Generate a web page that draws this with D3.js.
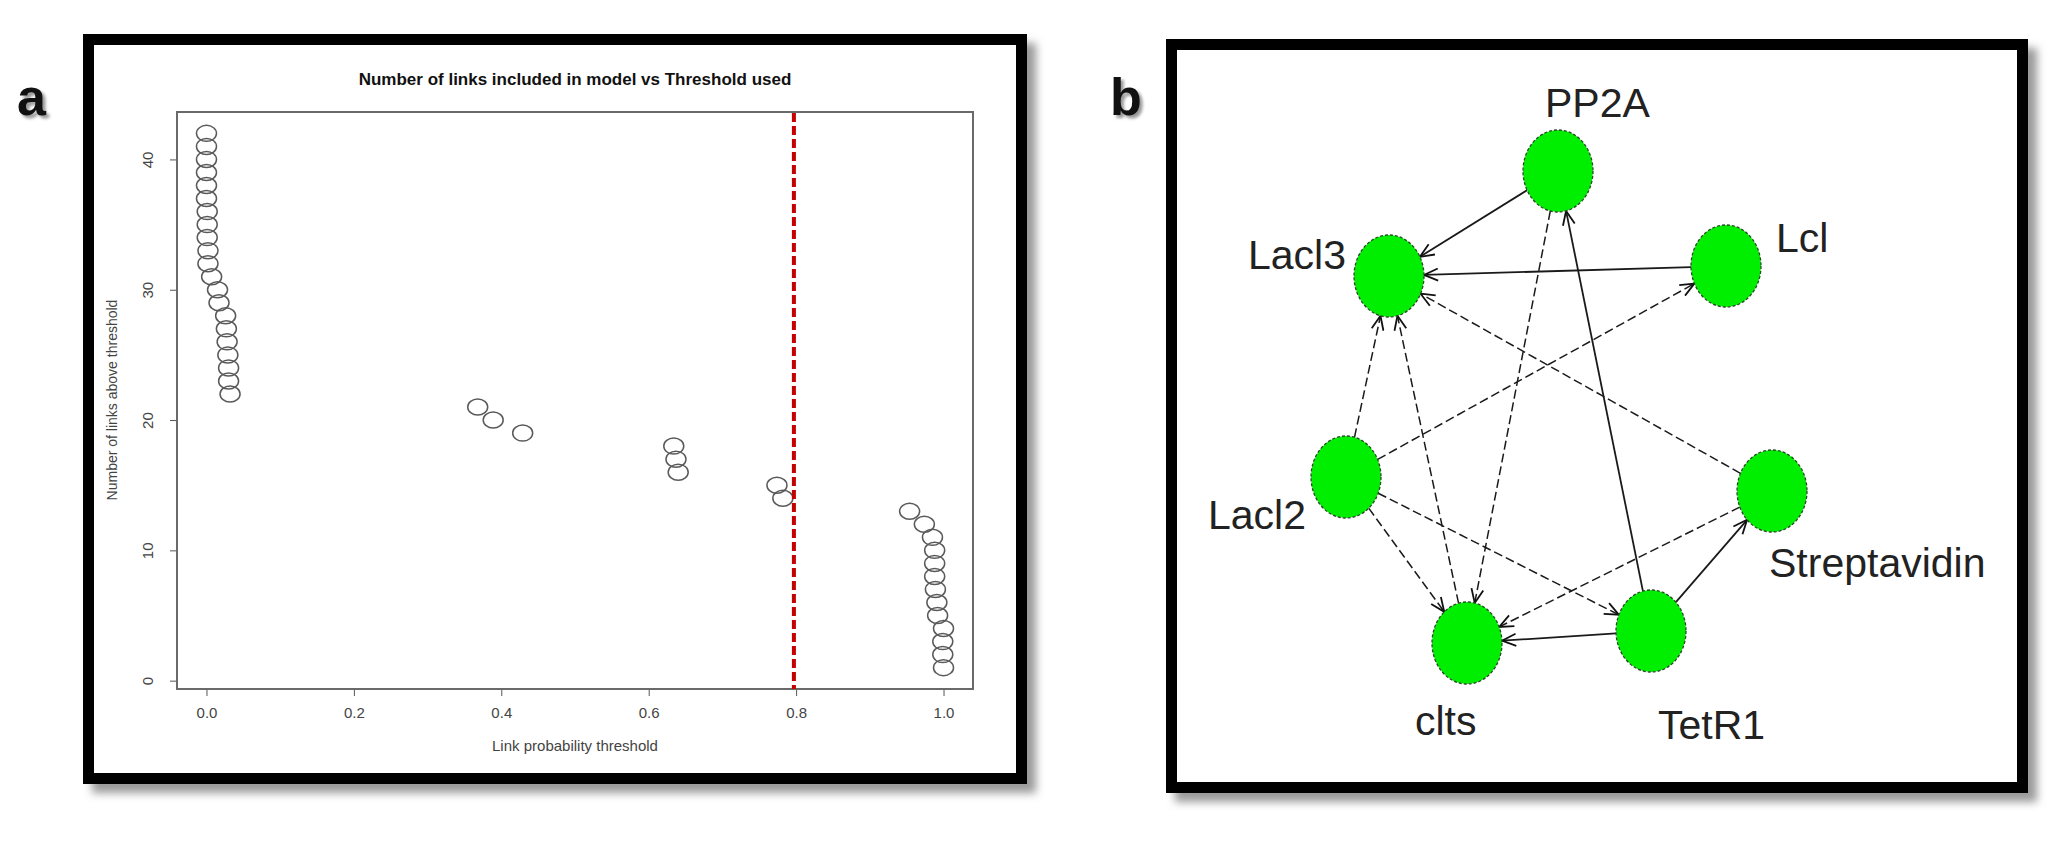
<!DOCTYPE html>
<html>
<head>
<meta charset="utf-8">
<script src="https://cdn.jsdelivr.net/npm/d3@7"></script>
<style>
  body { margin: 0; background: #fff; }
  text { font-family: "Liberation Sans", Arial, sans-serif; }
</style>
</head>
<body>
<script>
// panel a: link count vs threshold
const linkCounts = [42, 41, 40, 39, 38, 37, 36, 35, 34, 33, 32, 31, 30, 29, 28, 27, 26, 25, 24, 23, 22,
    21, 20, 19, 18, 17, 16, 15, 14, 13, 12, 11, 10, 9, 8, 7, 6, 5, 4, 3, 2, 1];
const thresholds = [0.000, 0.000, 0.000, 0.000, 0.000, 0.000, 0.001, 0.001, 0.001, 0.002, 0.002, 0.007,
    0.015, 0.017, 0.026, 0.027, 0.028, 0.029, 0.030, 0.030, 0.032,
    0.368, 0.389, 0.429, 0.634, 0.637, 0.640, 0.774, 0.782,
    0.954, 0.974, 0.985, 0.988, 0.988, 0.988, 0.989, 0.991, 0.992, 1.000, 0.999, 0.999, 1.000];
const xTicks = [0, 0.2, 0.4, 0.6, 0.8, 1.0];
const yTicks = [0, 10, 20, 30, 40];
const cutoff = 0.797;
const titleA = "Number of links included in model vs Threshold used";
const xLabelA = "Link probability threshold";
const yLabelA = "Number of links above threshold";

// panel b: network
const nodeNames = ["PP2A", "Lacl3", "Lcl", "Lacl2", "Streptavidin", "clts", "TetR1"];
const edgeFrom = ["PP2A", "Lcl", "Streptavidin", "Lacl2", "clts", "Lacl2", "PP2A", "TetR1", "Lacl2", "Lacl2", "Streptavidin", "TetR1", "TetR1"];
const edgeTo = ["Lacl3", "Lacl3", "Lacl3", "Lacl3", "Lacl3", "Lcl", "clts", "PP2A", "clts", "TetR1", "clts", "clts", "Streptavidin"];

// layout of panel b (panel-local units)
const nodeLayout = {
    "PP2A": { x: 392, y: 132, lx: 379, ly: 78 },
    "Lacl3": { x: 223, y: 237, lx: 82, ly: 230 },
    "Lcl": { x: 560, y: 227, lx: 610, ly: 213 },
    "Lacl2": { x: 180, y: 438, lx: 42, ly: 490 },
    "Streptavidin": { x: 606, y: 452, lx: 603, ly: 538 },
    "clts": { x: 301, y: 604, lx: 249, ly: 696 },
    "TetR1": { x: 485, y: 592, lx: 492, ly: 700 }
};
const solidEdges = ["Lcl>Lacl3", "TetR1>clts", "TetR1>PP2A", "PP2A>Lacl3", "TetR1>Streptavidin"];

const svg = d3.select("body").append("svg")
    .attr("width", 2064)
    .attr("height", 841);

const defs = svg.append("defs");
defs.append("filter").attr("id", "blur")
    .attr("x", "-10%").attr("y", "-10%").attr("width", "120%").attr("height", "120%")
    .append("feGaussianBlur").attr("stdDeviation", 4);
defs.append("filter").attr("id", "blurSmall")
    .append("feGaussianBlur").attr("stdDeviation", 1.5);

defs.append("marker")
    .attr("id", "arrow")
    .attr("viewBox", "0 0 16 14")
    .attr("refX", 15)
    .attr("refY", 7)
    .attr("markerWidth", 16)
    .attr("markerHeight", 14)
    .attr("markerUnits", "userSpaceOnUse")
    .attr("orient", "auto")
    .append("path")
    .attr("d", "M1,1 L15,7 L1,13")
    .attr("fill", "none")
    .attr("stroke", "#111")
    .attr("stroke-width", 1.8);

function panelFrame(x0, y0, x1, y1) {
    svg.append("rect")
        .attr("x", x0 + 9).attr("y", y0 + 9)
        .attr("width", x1 - x0).attr("height", y1 - y0)
        .attr("fill", "#9a9a9a")
        .attr("filter", "url(#blur)");
    svg.append("rect")
        .attr("x", x0 + 5.5).attr("y", y0 + 5.5)
        .attr("width", x1 - x0 - 11).attr("height", y1 - y0 - 11)
        .attr("fill", "#fff")
        .attr("stroke", "#000")
        .attr("stroke-width", 11);
}

function panelLetter(txt, x, yb) {
    svg.append("text").attr("x", x + 3).attr("y", yb + 3)
        .attr("font-size", 52).attr("font-weight", "bold")
        .attr("fill", "#999").attr("filter", "url(#blurSmall)").text(txt);
    svg.append("text").attr("x", x).attr("y", yb)
        .attr("font-size", 52).attr("font-weight", "bold")
        .attr("fill", "#111").text(txt);
}

// ---- panel a ----
panelFrame(83, 34, 1027, 784);
panelLetter("a", 17, 115);

const x = d3.scaleLinear().domain([-0.04, 1.04]).range([177, 973]);
const y = d3.scaleLinear().domain([-0.64, 43.64]).range([689, 112]);

svg.append("text")
    .attr("x", 575).attr("y", 85)
    .attr("text-anchor", "middle")
    .attr("font-size", 17).attr("font-weight", "bold")
    .attr("fill", "#111")
    .text(titleA);

const xAxis = svg.append("g")
    .attr("transform", "translate(0,689)")
    .call(d3.axisBottom(x).tickValues(xTicks).tickSize(7).tickPadding(11).tickFormat(d3.format(".1f")));
xAxis.select(".domain").remove();
xAxis.selectAll("line").attr("stroke", "#555");
xAxis.selectAll("text").attr("font-size", 15).attr("fill", "#444").attr("font-family", "Liberation Sans, Arial, sans-serif");

const yAxis = svg.append("g")
    .attr("transform", "translate(177,0)")
    .call(d3.axisLeft(y).tickValues(yTicks).tickSize(7));
yAxis.select(".domain").remove();
yAxis.selectAll("line").attr("stroke", "#555");
yAxis.selectAll("text")
    .attr("transform", "rotate(-90)")
    .attr("x", 0).attr("y", -24).attr("dy", 0)
    .attr("text-anchor", "middle")
    .attr("font-size", 15).attr("fill", "#444")
    .attr("font-family", "Liberation Sans, Arial, sans-serif");

svg.append("rect")
    .attr("x", 177).attr("y", 112)
    .attr("width", 973 - 177).attr("height", 689 - 112)
    .attr("fill", "none")
    .attr("stroke", "#6a6a6a")
    .attr("stroke-width", 2);

svg.append("text")
    .attr("x", 575).attr("y", 751)
    .attr("text-anchor", "middle")
    .attr("font-size", 15).attr("fill", "#444")
    .text(xLabelA);

svg.append("text")
    .attr("transform", "translate(117,400) rotate(-90)")
    .attr("text-anchor", "middle")
    .attr("font-size", 14).attr("fill", "#444")
    .text(yLabelA);

svg.append("g").selectAll("ellipse")
    .data(linkCounts)
    .enter()
    .append("ellipse")
    .attr("cx", (d, i) => x(thresholds[i]))
    .attr("cy", d => y(d))
    .attr("rx", 10)
    .attr("ry", 8)
    .attr("fill", "none")
    .attr("stroke", "#5a5a5a")
    .attr("stroke-width", 1.5);

svg.append("line")
    .attr("x1", x(cutoff)).attr("x2", x(cutoff))
    .attr("y1", 113).attr("y2", 689)
    .attr("stroke", "#c40000")
    .attr("stroke-width", 4)
    .attr("stroke-dasharray", "9,4");

// ---- panel b ----
panelFrame(1166, 39, 2028, 793);
panelLetter("b", 1110, 115);

const bx = d3.scaleLinear().domain([0, 862]).range([1166, 2028]);
const by = d3.scaleLinear().domain([0, 754]).range([39, 793]);
const rx = 35, ry = 41;

const nodes = nodeNames.map(n => ({ name: n, x: bx(nodeLayout[n].x), y: by(nodeLayout[n].y), lx: bx(nodeLayout[n].lx), ly: by(nodeLayout[n].ly) }));
const byName = {};
nodes.forEach(n => byName[n.name] = n);

function rim(c, o) {
    const dx = o.x - c.x, dy = o.y - c.y;
    const t = 1 / Math.sqrt((dx / rx) ** 2 + (dy / ry) ** 2);
    return [c.x + dx * t, c.y + dy * t];
}

const edges = edgeFrom.map((s, i) => ({ source: byName[s], target: byName[edgeTo[i]], key: s + ">" + edgeTo[i] }));

svg.append("g").selectAll("line")
    .data(edges)
    .enter()
    .append("line")
    .attr("x1", d => rim(d.source, d.target)[0])
    .attr("y1", d => rim(d.source, d.target)[1])
    .attr("x2", d => rim(d.target, d.source)[0])
    .attr("y2", d => rim(d.target, d.source)[1])
    .attr("stroke", "#1a1a1a")
    .attr("stroke-width", d => solidEdges.includes(d.key) ? 1.8 : 1.5)
    .attr("stroke-dasharray", d => solidEdges.includes(d.key) ? null : "9,4")
    .attr("marker-end", "url(#arrow)");

svg.append("g").selectAll("ellipse")
    .data(nodes)
    .enter()
    .append("ellipse")
    .attr("cx", d => d.x)
    .attr("cy", d => d.y)
    .attr("rx", rx)
    .attr("ry", ry)
    .attr("fill", "#00ee00")
    .attr("stroke", "#2a4a2a")
    .attr("stroke-width", 1.3)
    .attr("stroke-dasharray", "3,2");

svg.append("g").selectAll("text")
    .data(nodes)
    .enter()
    .append("text")
    .attr("x", d => d.lx)
    .attr("y", d => d.ly)
    .attr("font-size", 41)
    .attr("fill", "#222")
    .text(d => d.name);
</script>
</body>
</html>
